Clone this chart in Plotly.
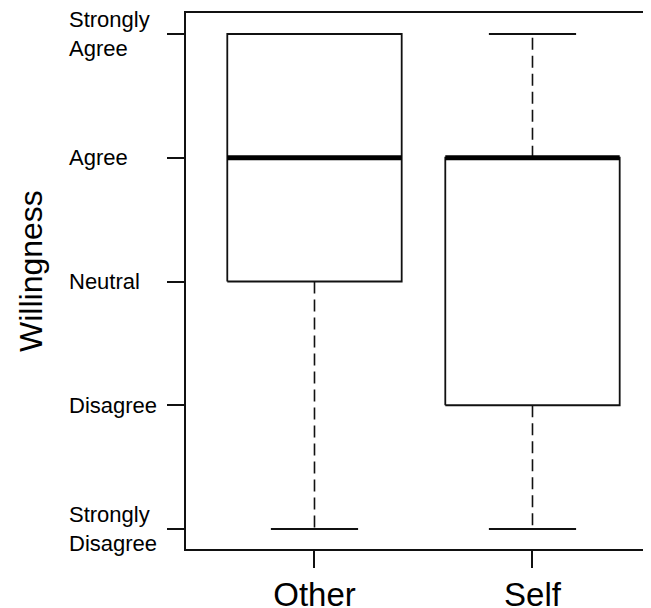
import plotly.graph_objects as go

# Data (Likert scale: 1 = Strongly Disagree ... 5 = Strongly Agree)
groups = ["Other", "Self"]
group_pos = [1, 2]
mins = [1, 1]
q1s = [3, 2]
medians = [4, 4]
q3s = [5, 4]
maxs = [5, 5]

level_vals = [1, 2, 3, 4, 5]
level_labels = ["Strongly<br>Disagree", "Disagree", "Neutral", "Agree", "Strongly<br>Agree"]

FONT = "Liberation Sans, Arial, Helvetica, sans-serif"
LINE = "#111111"
half_box = 0.4
half_cap = 0.2

# page body has an 8px default margin; figure sized so it ends at the window edge
W, H = 643, 600
L, T, B = 178, 5, 59
plot_w = W - L
plot_h = H - T - B

fig = go.Figure()

for g, lo, a, m, b, hi in zip(group_pos, mins, q1s, medians, q3s, maxs):
    fig.add_trace(go.Scatter(x=[g, g, None, g, g], y=[b, hi, None, a, lo], mode="lines",
                             line=dict(color=LINE, width=1.6, dash="12px,6px"),
                             hoverinfo="skip", showlegend=False))
    fig.add_trace(go.Scatter(x=[g - half_cap, g + half_cap, None, g - half_cap, g + half_cap],
                             y=[hi, hi, None, lo, lo], mode="lines",
                             line=dict(color=LINE, width=1.8),
                             hoverinfo="skip", showlegend=False))
    fig.add_trace(go.Scatter(x=[g - half_box, g + half_box, g + half_box, g - half_box, g - half_box],
                             y=[a, a, b, b, a], mode="lines",
                             line=dict(color=LINE, width=1.8),
                             hoverinfo="skip", showlegend=False))
    fig.add_trace(go.Scatter(x=[g - half_box, g + half_box], y=[m, m], mode="lines",
                             line=dict(color="#000000", width=5),
                             hoverinfo="skip", showlegend=False))

label_x = (59 - L) / plot_w
ylab_x = (23 - L) / plot_w
ylab_y = (H - B - 263) / plot_h

annotations = []
for v, lab in zip(level_vals, level_labels):
    annotations.append(dict(x=label_x, xref="paper", y=v, yref="y", text=lab,
                            showarrow=False, xanchor="left", yanchor="middle", align="left",
                            font=dict(family=FONT, size=22, color="#000")))
annotations.append(dict(x=ylab_x, xref="paper", y=ylab_y, yref="paper", text="Willingness",
                        showarrow=False, textangle=-90, xanchor="center", yanchor="middle",
                        font=dict(family=FONT, size=32, color="#000")))

fig.update_layout(
    width=W, height=H,
    margin=dict(l=L, r=0, t=T, b=B, pad=0, autoexpand=False),
    paper_bgcolor="white", plot_bgcolor="white",
    showlegend=False,
    annotations=annotations,
    xaxis=dict(range=[0.4106, 2.5436], tickvals=group_pos, ticktext=groups,
               automargin=False,
               showgrid=False, zeroline=False, showline=True, linecolor=LINE, linewidth=1.8,
               mirror=True, ticks="outside", ticklen=17, tickwidth=1.6, tickcolor=LINE,
               ticklabelstandoff=-2,
               tickfont=dict(family=FONT, size=33, color="#000")),
    yaxis=dict(range=[0.8384, 5.1697], tickvals=level_vals, showticklabels=False,
               automargin=False,
               showgrid=False, zeroline=False, showline=True, linecolor=LINE, linewidth=1.8,
               ticks="outside", ticklen=17, tickwidth=1.6, tickcolor=LINE),
)

fig.write_html("out.html")
